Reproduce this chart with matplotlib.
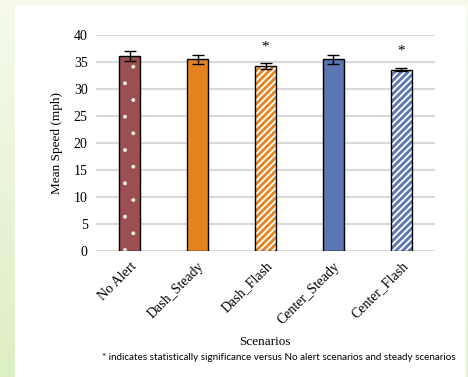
#!/usr/bin/env python3
import matplotlib
matplotlib.use("Agg")
import matplotlib.pyplot as plt
import matplotlib.colors as mcolors
import numpy as np

scenarios = ["No Alert", "Dash_Steady", "Dash_Flash", "Center_Steady", "Center_Flash"]
mean_speed = [36.1, 35.5, 34.3, 35.5, 33.6]
err = [0.9, 0.8, 0.6, 0.8, 0.35]
significant = [False, False, True, False, True]

face = ["#9C4F51", "#E5831F", "white", "#5B76B3", "white"]
hatch_col = ["white", None, "#E5831F", None, "#5B76B3"]
hatches = [".", None, "/////", None, "/////"]
hatch_lw = [0.3, None, 2.0, None, 2.0]

note = "* indicates statistically significance versus No alert scenarios and steady scenarios"


def main():
    fig = plt.figure(figsize=(4.68, 3.77), dpi=100)

    # green gradient backdrop + white panel
    bg = fig.add_axes([0, 0, 1, 1], zorder=-10)
    cmap = mcolors.LinearSegmentedColormap.from_list("bg", ["#F5FAEC", "#DDEFC4"])
    grad = np.linspace(0, 1, 256).reshape(-1, 1)
    bg.imshow(grad, aspect="auto", cmap=cmap, extent=[0, 1, 0, 1], origin="upper")
    bg.add_patch(plt.Rectangle((15 / 468, 0), 450 / 468, 371 / 377, color="white"))
    bg.set_xlim(0, 1)
    bg.set_ylim(0, 1)
    bg.axis("off")

    ax = fig.add_axes([96 / 468, 1 - 251 / 377, 339 / 468, 216 / 377])
    ax.patch.set_alpha(0)
    x = np.arange(len(scenarios))
    w = 0.31
    for i in x:
        if hatches[i]:
            with plt.rc_context({"hatch.linewidth": hatch_lw[i]}):
                b = ax.bar(i, mean_speed[i], w, color=face[i], edgecolor=hatch_col[i],
                           hatch=hatches[i], linewidth=0, zorder=3)
            for p in b:
                if hasattr(p, "set_hatch_linewidth"):
                    p.set_hatch_linewidth(hatch_lw[i])
        else:
            ax.bar(i, mean_speed[i], w, color=face[i], linewidth=0, zorder=3)
        ax.bar(i, mean_speed[i], w, fill=False, edgecolor="black", linewidth=1.0, zorder=4)
    ax.errorbar(x, mean_speed, yerr=err, fmt="none", ecolor="black",
                elinewidth=1.0, capsize=4, capthick=1.0, zorder=5)

    # significance marks
    for i in x:
        if significant[i]:
            ax.text(i, mean_speed[i] + 3.5, "*", ha="center", va="center",
                    fontsize=11, family="Liberation Serif")

    ax.set_xlim(-0.5, 4.5)
    ax.set_ylim(0, 40)
    ax.set_yticks(range(0, 41, 5))
    ax.grid(axis="y", color="#D9D9D9", linewidth=1.5, zorder=0)
    for s in ax.spines.values():
        s.set_visible(False)
    ax.tick_params(length=0, labelsize=10, pad=6)
    ax.set_xticks(x)
    ax.set_xticklabels(scenarios, rotation=45, ha="right", rotation_mode="anchor",
                       family="Liberation Serif")
    for lbl in ax.get_yticklabels():
        lbl.set_family("Liberation Serif")
    ax.set_ylabel("Mean Speed (mph)", family="Liberation Serif", fontsize=9.5, labelpad=8)

    fig.text(265 / 468, 1 - 342 / 377, "Scenarios", ha="center", va="center",
             family="Liberation Serif", fontsize=9.5)
    fig.text(279 / 468, 1 - 357 / 377, note, ha="center", va="center",
             family="Lato", fontsize=7.1)

    fig.savefig("out.png", dpi=100)


if __name__ == '__main__':
    main()
